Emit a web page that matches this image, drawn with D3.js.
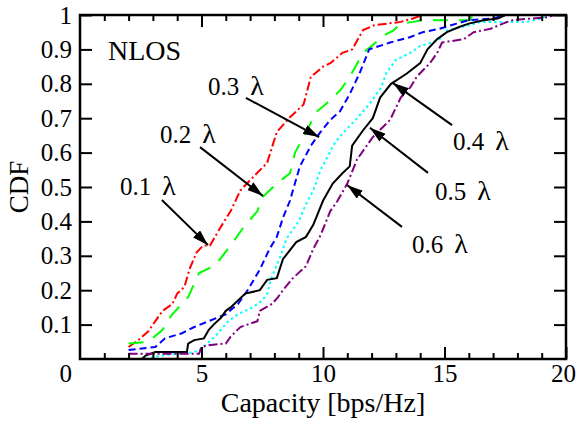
<!DOCTYPE html>
<html>
<head>
<meta charset="utf-8">
<script src="https://cdn.jsdelivr.net/npm/d3@7"></script>
<style>
  body { margin: 0; background: #fff; }
  svg text { font-family: "Liberation Serif", "Times New Roman", serif; fill: #000; }
</style>
</head>
<body>
<script>
// CDF of capacity, one curve per antenna spacing
const cap01 = [[2.0,0.035],[2.4,0.055],[2.8,0.08],[3.1,0.11],[3.4,0.14],[3.8,0.16],[4.0,0.19],[4.3,0.21],[4.5,0.26],[4.8,0.31],[5.07,0.33],[5.35,0.33],[5.76,0.38],[6.2,0.43],[6.6,0.49],[7.0,0.52],[7.7,0.57],[8.1,0.66],[8.6,0.70],[9.2,0.74],[9.5,0.82],[10.0,0.85],[10.3,0.86],[10.8,0.89],[11.2,0.90],[11.65,0.956],[12.1,0.97],[13.2,0.98],[13.7,0.99],[14.1,1.0]];
const cap02 = [[2.0,0.045],[2.8,0.05],[3.4,0.085],[3.6,0.11],[3.8,0.13],[4.45,0.18],[4.9,0.25],[5.5,0.27],[5.76,0.29],[6.3,0.34],[6.7,0.38],[7.3,0.43],[7.5,0.47],[8.1,0.51],[8.64,0.54],[8.85,0.60],[9.2,0.645],[9.75,0.72],[10.1,0.74],[10.7,0.78],[11.1,0.82],[11.65,0.89],[12.0,0.91],[12.5,0.94],[12.9,0.955],[13.2,0.975],[13.7,0.98],[14.1,0.985],[16.0,0.985],[16.2,1.0]];
const cap03 = [[2.0,0.026],[3.1,0.035],[3.5,0.06],[4.2,0.075],[4.7,0.093],[5.3,0.11],[6.0,0.13],[6.5,0.16],[6.9,0.20],[7.4,0.26],[7.8,0.32],[8.1,0.355],[8.35,0.41],[8.64,0.46],[8.76,0.49],[9.05,0.56],[9.5,0.62],[9.9,0.66],[10.3,0.695],[10.7,0.72],[11.1,0.77],[11.5,0.83],[11.9,0.90],[12.76,0.92],[13.6,0.936],[14.1,0.95],[14.8,0.96],[15.5,0.975],[16.0,0.985],[17.0,0.99],[17.5,1.0]];
const cap04 = [[2.7,0.0],[3.3,0.01],[4.7,0.02],[5.0,0.03],[5.55,0.065],[6.1,0.11],[6.5,0.13],[7.1,0.15],[7.5,0.17],[7.7,0.19],[7.9,0.24],[8.2,0.29],[8.5,0.35],[9.0,0.40],[9.3,0.45],[9.6,0.49],[9.9,0.55],[10.2,0.59],[10.5,0.63],[10.8,0.655],[11.4,0.70],[11.9,0.74],[12.4,0.79],[12.6,0.83],[13.0,0.87],[13.6,0.89],[14.0,0.91],[14.5,0.92],[14.8,0.93],[15.1,0.955],[16.0,0.97],[16.5,0.98],[18.4,0.98],[19.0,0.99],[19.2,1.0]];
const cap05 = [[2.55,0.0],[2.7,0.01],[3.1,0.02],[4.4,0.02],[4.45,0.045],[4.7,0.055],[5.1,0.06],[5.3,0.085],[5.5,0.10],[5.8,0.12],[6.0,0.14],[6.2,0.15],[6.5,0.17],[6.8,0.19],[7.4,0.20],[7.7,0.23],[8.1,0.235],[8.35,0.29],[8.9,0.34],[9.3,0.355],[9.6,0.39],[10.0,0.46],[10.4,0.51],[10.8,0.54],[11.1,0.56],[11.2,0.62],[11.65,0.665],[12.05,0.70],[12.35,0.76],[12.8,0.80],[13.45,0.83],[14.0,0.86],[14.3,0.90],[14.7,0.93],[15.1,0.95],[15.6,0.965],[16.0,0.975],[16.6,0.985],[17.2,0.99],[17.5,1.0]];
const cap06 = [[2.0,0.015],[4.9,0.015],[5.0,0.035],[5.3,0.04],[6.0,0.045],[6.2,0.065],[6.6,0.093],[7.3,0.11],[7.4,0.14],[7.9,0.16],[8.15,0.18],[8.35,0.20],[8.76,0.235],[9.3,0.27],[9.6,0.32],[9.9,0.36],[10.3,0.43],[10.6,0.46],[11.0,0.51],[11.4,0.58],[11.8,0.62],[12.05,0.645],[12.76,0.695],[13.2,0.76],[13.6,0.79],[13.85,0.82],[14.4,0.86],[14.7,0.89],[14.9,0.92],[15.8,0.93],[16.2,0.95],[16.9,0.96],[17.4,0.975],[17.8,0.985],[19.3,0.994],[19.5,1.0]];

const seriesNames = ["0.1", "0.2", "0.3", "0.4", "0.5", "0.6"];
const seriesData = [cap01, cap02, cap03, cap04, cap05, cap06];

const xMajorTicks = [5, 10, 15, 20];
const xMinorTicks = [1, 2, 3, 4, 6, 7, 8, 9, 11, 12, 13, 14, 16, 17, 18, 19];
const yTicks = [0.1, 0.2, 0.3, 0.4, 0.5, 0.6, 0.7, 0.8, 0.9, 1];

// label text position and arrow tail -> tip, in data units
const labelNames = ["0.1", "0.2", "0.3", "0.4", "0.5", "0.6"];
const labelAt   = [[1.65,0.477],[3.29,0.628],[5.27,0.767],[15.35,0.608],[14.61,0.462],[13.66,0.308]];
const arrowFrom = [[3.37,0.462],[4.94,0.616],[6.83,0.759],[15.31,0.680],[14.32,0.541],[13.25,0.384]];
const arrowTo   = [[5.27,0.331],[7.53,0.474],[9.84,0.645],[12.88,0.802],[11.93,0.672],[10.99,0.506]];

const styles = {
  "0.1": { color: "#ff0000", dash: "9,3,2,3" },
  "0.2": { color: "#00ff00", dash: "15,11" },
  "0.3": { color: "#0000ff", dash: "7,4" },
  "0.4": { color: "#00ffff", dash: "2.5,3" },
  "0.5": { color: "#000000", dash: null },
  "0.6": { color: "#800080", dash: "9,3,2,3" }
};

const width = 576, height = 421;
const margin = { top: 15, right: 10, bottom: 62, left: 80 };

const svg = d3.select("body").append("svg")
    .attr("width", width)
    .attr("height", height);

const x = d3.scaleLinear().domain([0, 20]).range([margin.left, width - margin.right]);
const y = d3.scaleLinear().domain([0, 1]).range([height - margin.bottom, margin.top]);

svg.append("defs").append("marker")
    .attr("id", "head")
    .attr("markerUnits", "userSpaceOnUse")
    .attr("viewBox", "0 0 16 10")
    .attr("refX", 16).attr("refY", 5)
    .attr("markerWidth", 16).attr("markerHeight", 10)
    .attr("orient", "auto")
  .append("path")
    .attr("d", "M0,0L16,5L0,10z")
    .attr("fill", "#000");

// curves
const line = d3.line().x(d => x(d[0])).y(d => y(d[1]));
svg.append("g")
  .selectAll("path")
  .data(seriesData)
  .join("path")
    .attr("d", line)
    .attr("fill", "none")
    .attr("stroke", (d, i) => styles[seriesNames[i]].color)
    .attr("stroke-width", 2)
    .attr("stroke-dasharray", (d, i) => styles[seriesNames[i]].dash);

// axes, ticks pointing inward
function styleAxis(g) {
  g.select(".domain").remove();
  g.selectAll(".tick line").attr("stroke", "#000").attr("stroke-width", 2);
  g.selectAll(".tick text").attr("font-size", 25);
}

svg.append("g")
    .attr("transform", `translate(0,${y(0)})`)
    .call(d3.axisBottom(x).tickValues(xMajorTicks).tickSizeInner(-12).tickSizeOuter(0).tickPadding(5))
    .call(styleAxis);
svg.append("g")
    .attr("transform", `translate(0,${y(0)})`)
    .call(d3.axisBottom(x).tickValues(xMinorTicks).tickSizeInner(-6).tickSizeOuter(0).tickFormat(""))
    .call(styleAxis);
svg.append("g")
    .attr("transform", `translate(0,${y(1)})`)
    .call(d3.axisTop(x).tickValues(xMajorTicks).tickSizeInner(-12).tickSizeOuter(0).tickFormat(""))
    .call(styleAxis);
svg.append("g")
    .attr("transform", `translate(0,${y(1)})`)
    .call(d3.axisTop(x).tickValues(xMinorTicks).tickSizeInner(-6).tickSizeOuter(0).tickFormat(""))
    .call(styleAxis);
svg.append("g")
    .attr("transform", `translate(${x(0)},0)`)
    .call(d3.axisLeft(y).tickValues(yTicks).tickSizeInner(-12).tickSizeOuter(0).tickPadding(8).tickFormat(d3.format(".1~f")))
    .call(styleAxis);
svg.append("g")
    .attr("transform", `translate(${x(20)},0)`)
    .call(d3.axisRight(y).tickValues(yTicks).tickSizeInner(-12).tickSizeOuter(0).tickFormat(""))
    .call(styleAxis);

// keep the last x label inside the window
svg.selectAll(".tick text").filter(d => d === 20).attr("dx", -3);

// shared origin label
svg.append("text")
    .attr("x", x(0) - 8)
    .attr("y", y(0) + 5)
    .attr("dy", "0.71em")
    .attr("text-anchor", "end")
    .attr("font-size", 25)
    .text("0");

// frame
svg.append("rect")
    .attr("x", x(0)).attr("y", y(1))
    .attr("width", x(20) - x(0)).attr("height", y(0) - y(1))
    .attr("fill", "none")
    .attr("stroke", "#000")
    .attr("stroke-width", 2.5);

// axis titles
svg.append("text")
    .attr("x", (x(0) + x(20)) / 2)
    .attr("y", 412)
    .attr("text-anchor", "middle")
    .attr("font-size", 28)
    .text("Capacity [bps/Hz]");
svg.append("text")
    .attr("transform", `translate(28,${(y(0) + y(1)) / 2}) rotate(-90)`)
    .attr("text-anchor", "middle")
    .attr("font-size", 27)
    .text("CDF");

svg.append("text")
    .attr("x", x(1.15))
    .attr("y", y(0.87))
    .attr("font-size", 28)
    .text("NLOS");

// arrows and labels
svg.append("g")
  .selectAll("line")
  .data(labelNames)
  .join("line")
    .attr("x1", (d, i) => x(arrowFrom[i][0]))
    .attr("y1", (d, i) => y(arrowFrom[i][1]))
    .attr("x2", (d, i) => x(arrowTo[i][0]))
    .attr("y2", (d, i) => y(arrowTo[i][1]))
    .attr("stroke", "#000")
    .attr("stroke-width", 2)
    .attr("marker-end", "url(#head)");

const lbl = svg.append("g")
  .selectAll("text")
  .data(labelNames)
  .join("text")
    .attr("x", (d, i) => x(labelAt[i][0]))
    .attr("y", (d, i) => y(labelAt[i][1]))
    .attr("font-size", 25)
    .text(d => d);
lbl.append("tspan")
    .attr("dx", 11)
    .attr("font-size", 28)
    .text("λ");
</script>
</body>
</html>
